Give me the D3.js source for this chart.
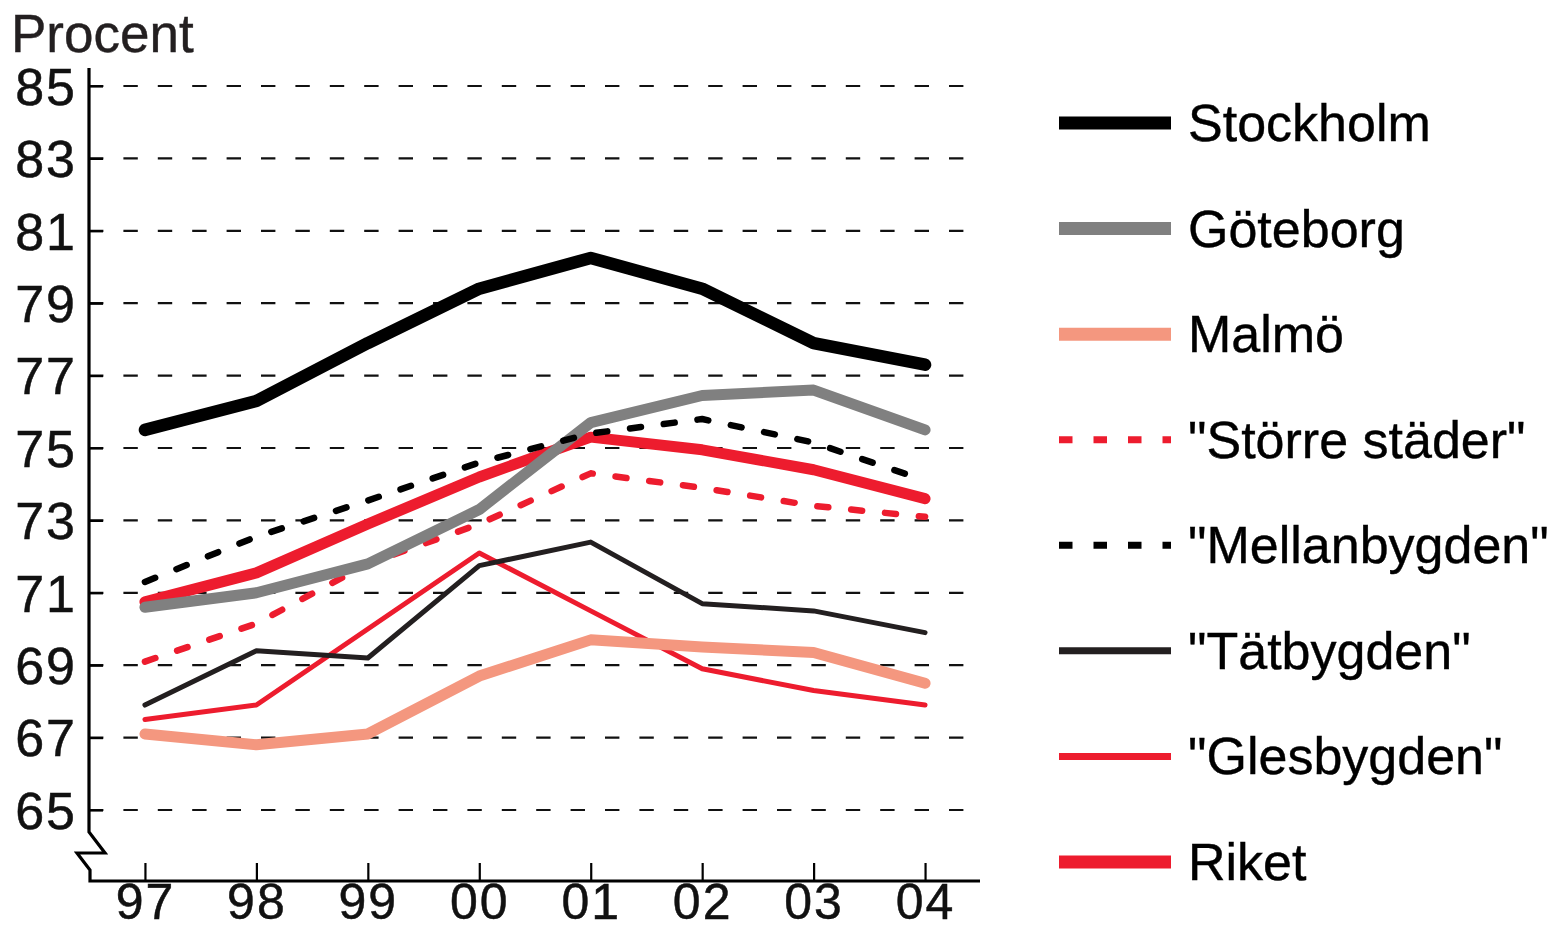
<!DOCTYPE html>
<html>
<head>
<meta charset="utf-8">
<script src="https://cdn.jsdelivr.net/npm/d3@7"></script>
<style>
  html, body { margin: 0; padding: 0; background: #fff; }
  svg { display: block; font-family: "Liberation Sans", Arial, sans-serif; }
</style>
</head>
<body>
<svg id="chart" width="1561" height="930"></svg>
<script>
// ---- Data ----
const years = ["97", "98", "99", "00", "01", "02", "03", "04"];
const yTicks = [65, 67, 69, 71, 73, 75, 77, 79, 81, 83, 85];

const stockholm    = [75.5, 76.3, 77.9, 79.4, 80.25, 79.4, 77.9, 77.3];
const goteborg     = [70.6, 71.0, 71.8, 73.3, 75.7, 76.45, 76.6, 75.5];
const malmo        = [67.1, 66.8, 67.1, 68.7, 69.7, 69.5, 69.35, 68.5];
const storreStader = [69.1, 70.15, 71.8, 72.9, 74.3, 73.9, 73.4, 73.1];
const mellanbygden = [71.3, 72.55, 73.55, 74.6, 75.4, 75.8, 75.15, 74.1];
const tatbygden    = [67.9, 69.4, 69.2, 71.75, 72.4, 70.7, 70.5, 69.9];
const glesbygden   = [67.5, 67.9, 70.0, 72.1, 70.5, 68.9, 68.3, 67.9];
const riket        = [70.75, 71.55, 72.9, 74.2, 75.3, 74.95, 74.4, 73.6];

const legendNames = ["Stockholm", "Göteborg", "Malmö", "\"Större städer\"", "\"Mellanbygden\"", "\"Tätbygden\"", "\"Glesbygden\"", "Riket"];

// ---- Styles ----
const RED = "#ed1c2e";
const series = [
  { name: legendNames[0], values: stockholm,    color: "#000000", width: 12.5, dash: null, legendW: 13, order: 7 },
  { name: legendNames[1], values: goteborg,     color: "#808080", width: 11,   dash: null, legendW: 13, order: 4 },
  { name: legendNames[2], values: malmo,        color: "#f4977f", width: 11,   dash: null, legendW: 13, order: 6 },
  { name: legendNames[3], values: storreStader, color: RED,       width: 6.5,  dash: "11,23", legendW: 7, order: 2 },
  { name: legendNames[4], values: mellanbygden, color: "#000000", width: 6.5,  dash: "11,23", legendW: 7, order: 5 },
  { name: legendNames[5], values: tatbygden,    color: "#231f20", width: 5,    dash: null, legendW: 7, order: 1 },
  { name: legendNames[6], values: glesbygden,   color: RED,       width: 5,    dash: null, legendW: 7, order: 0 },
  { name: legendNames[7], values: riket,        color: RED,       width: 11,   dash: null, legendW: 13, order: 3 }
];

const svg = d3.select("#chart");
const TXT = "#111";

// ---- Scales ----
const x = d3.scaleLinear().domain([-0.493, years.length - 1 + 0.493]).range([90, 980]);
const y = d3.scaleLinear().domain([65, 85]).range([810, 86]);

// ---- Gridlines ----
svg.append("g").selectAll("line").data(yTicks).join("line")
  .attr("x1", 89).attr("x2", 966)
  .attr("y1", d => y(d)).attr("y2", d => y(d))
  .attr("stroke", "#111").attr("stroke-width", 2.2)
  .attr("stroke-dasharray", "14.4,20");

// ---- Y axis ----
const yAxis = d3.axisLeft(y).tickValues(yTicks).tickSizeInner(-14).tickSizeOuter(0).tickPadding(12).tickFormat(d3.format("d"));
const gy = svg.append("g").attr("transform", "translate(89,0)").call(yAxis);
gy.select(".domain").remove();
gy.selectAll(".tick line").attr("stroke", "#000").attr("stroke-width", 2.2);
gy.selectAll(".tick text").attr("font-size", 52).attr("fill", TXT)
  .attr("stroke", TXT).attr("stroke-width", 0.5)
  .attr("font-family", "'Liberation Sans', Arial, sans-serif").attr("letter-spacing", 2).attr("dy", "0.35em");

// ---- X axis ----
const xAxis = d3.axisBottom(x).tickValues(d3.range(years.length)).tickFormat(i => years[i]).tickSizeInner(-18).tickSizeOuter(0).tickPadding(2);
const gx = svg.append("g").attr("transform", "translate(0,881)").call(xAxis);
gx.select(".domain").remove();
gx.selectAll(".tick line").attr("stroke", "#000").attr("stroke-width", 2.2);
gx.selectAll(".tick text").attr("font-size", 50).attr("fill", TXT)
  .attr("stroke", TXT).attr("stroke-width", 0.5)
  .attr("font-family", "'Liberation Sans', Arial, sans-serif").attr("letter-spacing", 2);

// ---- Axis frame with break ----
svg.append("path")
  .attr("d", "M89,68 V832 L105,853 H77 L90,870 V881 H980")
  .attr("fill", "none").attr("stroke", "#000").attr("stroke-width", 3.2)
  .attr("stroke-linejoin", "miter");

// ---- Title ----
svg.append("text").attr("x", 11).attr("y", 52).text("Procent")
  .attr("font-size", 53).attr("fill", "#231f20")
  .attr("stroke", "#231f20").attr("stroke-width", 0.4);

// ---- Lines ----
const line = d3.line().x((d, i) => x(i)).y(d => y(d));
const drawOrder = series.slice().sort((a, b) => a.order - b.order);
svg.append("g").selectAll("path").data(drawOrder).join("path")
  .attr("d", d => line(d.values))
  .attr("fill", "none")
  .attr("stroke", d => d.color)
  .attr("stroke-width", d => d.width)
  .attr("stroke-dasharray", d => d.dash)
  .attr("stroke-linecap", "round")
  .attr("stroke-linejoin", "round");

// ---- Legend ----
const legY = d3.scalePoint().domain(legendNames).range([123, 862]);
const leg = svg.append("g").selectAll("g").data(series).join("g")
  .attr("transform", d => `translate(0,${legY(d.name)})`);
leg.append("line")
  .attr("x1", 1059).attr("x2", 1171).attr("y1", 0).attr("y2", 0)
  .attr("stroke", d => d.color)
  .attr("stroke-width", d => d.legendW)
  .attr("stroke-dasharray", d => d.dash ? "13.5,21" : null);
leg.append("text")
  .attr("x", 1188).attr("y", 18)
  .attr("font-size", 52).attr("fill", "#000")
  .attr("stroke", "#000").attr("stroke-width", 0.4)
  .text(d => d.name);
</script>
</body>
</html>
